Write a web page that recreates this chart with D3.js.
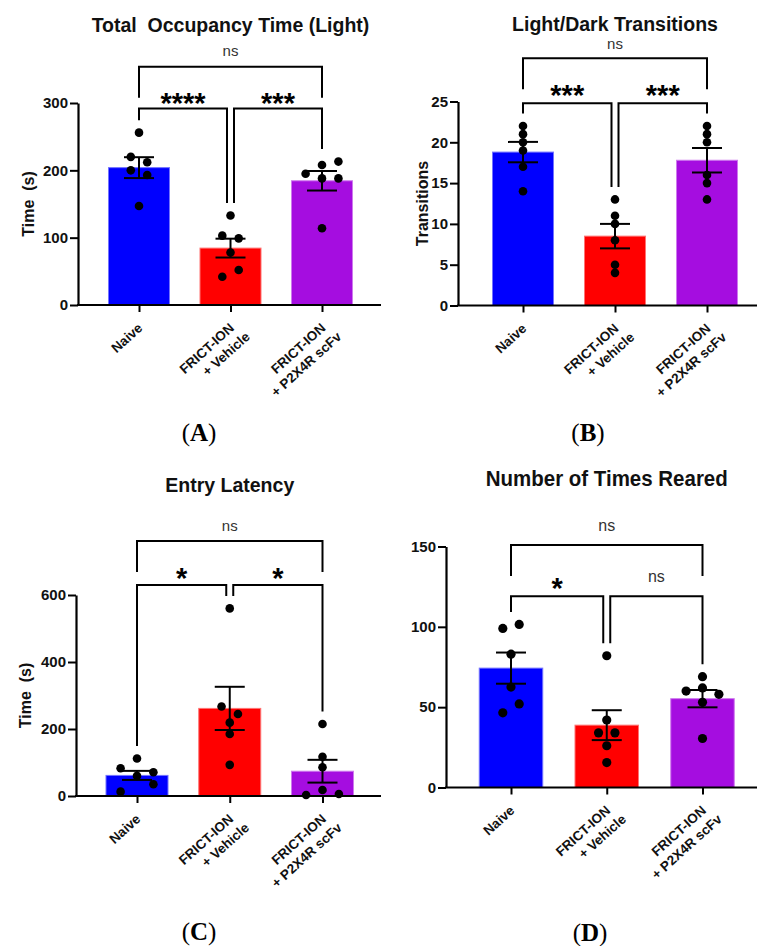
<!DOCTYPE html>
<html>
<head>
<script src="https://cdnjs.cloudflare.com/ajax/libs/d3/7.8.5/d3.min.js"></script>
<style>
  body { margin: 0; background: #fff; }
  svg { display: block; font-family: "Liberation Sans", Arial, sans-serif; }
  text { white-space: pre; }
</style>
</head>
<body>
<script>
const groups = ["Naive", "FRICT-ION + Vehicle", "FRICT-ION + P2X4R scFv"];
const groupLines = [["Naive"], ["FRICT-ION", "+ Vehicle"], ["FRICT-ION", "+ P2X4R scFv"]];
const barColors = ["#0000ff", "#ff0000", "#a50de0"];

// (A) total occupancy time in the light box, s
const occNaive = [256, 220, 212, 200, 193, 147];
const occVehicle = [133, 103, 99, 78, 52, 42];
const occScfv = [213, 208, 195, 188, 188, 114];
const occMean = [204, 84.5, 184.5];
const occSem = [15.5, 14, 14.5];
const occSlots = [[0, -1, 1, -1, 1, 0], [0, -1, 1, 0, 1, -1], [2, 0, -2, 2, 0, 0]];
const occTicks = [0, 100, 200, 300];
const occSig = ["****", "***", "ns"];
const occSigLevels = [292, 354];

// (B) light/dark transitions
const trNaive = [22, 21, 20, 19, 17, 14];
const trVehicle = [13, 11, 10, 8, 5, 4];
const trScfv = [22, 21, 20, 16, 15, 13];
const trMean = [18.8, 8.5, 17.8];
const trSem = [1.25, 1.5, 1.5];
const trSlots = [[0, 0, 0, 0, 0, 0], [0, 0, 0, 0, 0, 0], [0, 0, 0, 0, 0, 0]];
const trTicks = [0, 5, 10, 15, 20, 25];
const trSig = ["***", "***", "ns"];
const trSigLevels = [24.8, 30.3];

// (C) entry latency, s
const latNaive = [112, 83, 71, 60, 35, 13];
const latVehicle = [560, 267, 245, 219, 185, 93];
const latScfv = [215, 117, 86, 18, 6, 3];
const latMean = [61.5, 261.5, 74];
const latSem = [13.5, 64.5, 34];
const latSlots = [[0, -2, 2, 0, 2, -2], [0, -1, 1, 0, 0, 0], [0, 0, 0, 0, 2, -2]];
const latTicks = [0, 200, 400, 600];
const latSig = ["*", "*", "ns"];
const latSigLevels = [630, 761];

// (D) number of times reared
const rearNaive = [101.5, 99, 83, 62.5, 52, 46.5];
const rearVehicle = [82, 42, 34, 34, 26, 15.5];
const rearScfv = [69, 62, 60, 58, 53, 30.5];
const rearMean = [74.3, 38.8, 55.3];
const rearSem = [9.7, 9.3, 5.4];
const rearSlots = [[1, -1, 0, 0, 1, -1], [0, 0, -1, 1, 0, 0], [0, 0, -2, 2, 0, 0]];
const rearTicks = [0, 50, 100, 150];
const rearSig = ["*", "ns", "ns"];
const rearSigLevels = [119, 151];

const panels = [
  { letter: "A", title: "Total  Occupancy Time (Light)", titleY: 32, yLabel: "Time  (s)", yLabelX: 28,
    values: [occNaive, occVehicle, occScfv], mean: occMean, sem: occSem, slots: occSlots,
    ticks: occTicks, sig: occSig, levels: occSigLevels,
    axisX: 78, y0: 305, yTop: 103, c0: 139, c2: 322, barW: 61, xEnd: 381,
    starGap: 12, nsGap: 11, letterX: 199, letterY: 441 },
  { letter: "B", title: "Light/Dark Transitions", titleY: 30.5, yLabel: "Transitions", yLabelX: 422,
    values: [trNaive, trVehicle, trScfv], mean: trMean, sem: trSem, slots: trSlots,
    ticks: trTicks, sig: trSig, levels: trSigLevels,
    axisX: 458, y0: 305.5, yTop: 101.5, c0: 523, c2: 707, barW: 61, xEnd: 757,
    starGap: 15, nsGap: 9.5, letterX: 588, letterY: 441 },
  { letter: "C", title: "Entry Latency", titleY: 492, yLabel: "Time  (s)", yLabelX: 25,
    values: [latNaive, latVehicle, latScfv], mean: latMean, sem: latSem, slots: latSlots,
    ticks: latTicks, sig: latSig, levels: latSigLevels,
    axisX: 76, y0: 796, yTop: 595, c0: 137, c2: 322.5, barW: 62, xEnd: 381,
    starGap: 13.5, nsGap: 10.5, letterX: 199, letterY: 940 },
  { letter: "D", title: "Number of Times Reared", titleY: 486, titleSize: 22, titleLen: 242,
    values: [rearNaive, rearVehicle, rearScfv], mean: rearMean, sem: rearSem, slots: rearSlots,
    ticks: rearTicks, sig: rearSig, levels: rearSigLevels,
    axisX: 446, y0: 787.5, yTop: 546.5, c0: 511, c2: 702.5, barW: 63.5, xEnd: 757,
    starGap: 15, nsGap: 14, nsSize: 16, letterX: 590, letterY: 941, r: 4.6 }
];

const svg = d3.select("body").append("svg")
  .attr("width", 757)
  .attr("height", 946);

panels.forEach(drawPanel);

function drawPanel(p) {
  const g = svg.append("g").attr("class", "panel-" + p.letter);
  const y = d3.scaleLinear().domain([0, p.ticks[p.ticks.length - 1]]).range([p.y0, p.yTop]);
  const x = d3.scalePoint().domain(groups).range([p.c0, p.c2]);
  const r = p.r || 4.3;
  const slotW = 8.2;

  // bars
  g.selectAll(".bar")
    .data(p.mean)
    .join("rect")
    .attr("class", "bar")
    .attr("x", (d, i) => x(groups[i]) - p.barW / 2)
    .attr("y", d => y(d))
    .attr("width", p.barW)
    .attr("height", d => y(0) - y(d))
    .attr("fill", (d, i) => barColors[i])
    .attr("stroke", (d, i) => d3.interpolateRgb(barColors[i], "#fff")(0.45))
    .attr("stroke-width", 1);

  // individual animals
  const pts = p.values.flatMap((vals, i) => vals.map((v, j) => ({ i, v, s: p.slots[i][j] })));
  g.selectAll(".dot")
    .data(pts)
    .join("circle")
    .attr("class", "dot")
    .attr("cx", d => x(groups[d.i]) + d.s * slotW)
    .attr("cy", d => y(d.v))
    .attr("r", r)
    .attr("fill", "#000");

  // mean +/- SEM
  const eb = g.selectAll(".err")
    .data(p.mean)
    .join("g")
    .attr("class", "err")
    .attr("stroke", "#000")
    .attr("stroke-width", 2);
  const capW = 15;
  eb.append("line")
    .attr("x1", (d, i) => x(groups[i])).attr("x2", (d, i) => x(groups[i]))
    .attr("y1", (d, i) => y(d - p.sem[i])).attr("y2", (d, i) => y(d + p.sem[i]));
  eb.append("line")
    .attr("x1", (d, i) => x(groups[i]) - capW).attr("x2", (d, i) => x(groups[i]) + capW)
    .attr("y1", (d, i) => y(d + p.sem[i])).attr("y2", (d, i) => y(d + p.sem[i]));
  eb.append("line")
    .attr("x1", (d, i) => x(groups[i]) - capW).attr("x2", (d, i) => x(groups[i]) + capW)
    .attr("y1", (d, i) => y(d - p.sem[i])).attr("y2", (d, i) => y(d - p.sem[i]));

  // y axis
  const ya = g.append("g")
    .attr("transform", `translate(${p.axisX},0)`)
    .call(d3.axisLeft(y).tickValues(p.ticks).tickSize(8).tickSizeOuter(0).tickPadding(2));
  ya.select(".domain").attr("stroke-width", 2.2);
  ya.selectAll(".tick line").attr("stroke-width", 2);
  ya.selectAll(".tick text")
    .attr("font-family", "'Liberation Sans', Arial, sans-serif")
    .attr("font-size", 15)
    .attr("font-weight", "bold")
    .attr("fill", "#111");

  // x axis
  const xa = g.append("g")
    .attr("transform", `translate(0,${p.y0})`)
    .call(d3.axisBottom(x).tickSize(7).tickSizeOuter(0).tickFormat(""));
  xa.select(".domain")
    .attr("d", `M${p.axisX - 1},0H${p.xEnd}`)
    .attr("stroke-width", 2.2);
  xa.selectAll(".tick line").attr("stroke-width", 2);

  // rotated group labels
  const lab = g.selectAll(".xlab")
    .data(groupLines)
    .join("text")
    .attr("class", "xlab")
    .attr("transform", (d, i) => `translate(${x(groups[i])},${p.y0}) rotate(-42)`)
    .attr("text-anchor", "end")
    .attr("font-size", 13.5)
    .attr("font-weight", "bold")
    .attr("fill", "#111");
  lab.selectAll("tspan")
    .data(d => d)
    .join("tspan")
    .attr("x", (d, k) => k === 0 ? -13 : -7)
    .attr("y", (d, k) => 21 + k * 17)
    .text(d => d);

  // y axis title
  if (p.yLabel) {
    g.append("text")
      .attr("transform", `translate(${p.yLabelX + 6},${(p.y0 + p.yTop) / 2}) rotate(-90)`)
      .attr("text-anchor", "middle")
      .attr("font-size", 16)
      .attr("font-weight", "bold")
      .attr("fill", "#111")
      .text(p.yLabel);
  }

  // title
  const t = g.append("text")
    .attr("x", x(groups[1]))
    .attr("y", p.titleY)
    .attr("text-anchor", "middle")
    .attr("font-size", p.titleSize || 19.5)
    .attr("font-weight", "bold")
    .attr("fill", "#111")
    .text(p.title);
  if (p.titleLen) {
    t.attr("textLength", p.titleLen).attr("lengthAdjust", "spacingAndGlyphs");
  }

  // significance brackets
  const legGap = 12.5;
  const top = p.values.map(v => y(d3.max(v)) - legGap);
  const lowY = y(p.levels[0]);
  const highY = y(p.levels[1]);
  const xs = groups.map(k => x(k));
  const brackets = [
    { x1: xs[0], x2: xs[1] - 3.5, yb: lowY, l1: top[0], l2: top[1], label: p.sig[0] },
    { x1: xs[1] + 3.5, x2: xs[2], yb: lowY, l1: top[1], l2: top[2], label: p.sig[1] },
    { x1: xs[0], x2: xs[2], yb: highY, l1: highY + 31, l2: highY + 31, label: p.sig[2] }
  ];
  g.selectAll(".bracket")
    .data(brackets)
    .join("path")
    .attr("class", "bracket")
    .attr("d", d => `M${d.x1},${d.l1}V${d.yb}H${d.x2}V${d.l2}`)
    .attr("fill", "none")
    .attr("stroke", "#000")
    .attr("stroke-width", 2);

  g.selectAll(".sig")
    .data(brackets)
    .join("text")
    .attr("class", "sig")
    .attr("x", d => (d.x1 + d.x2) / 2)
    .attr("y", d => d.label === "ns" ? d.yb - p.nsGap : d.yb - p.starGap + 17)
    .attr("text-anchor", "middle")
    .attr("font-size", d => d.label === "ns" ? (p.nsSize || 15) : 29)
    .attr("font-weight", d => d.label === "ns" ? "normal" : "bold")
    .attr("fill", d => d.label === "ns" ? "#333" : "#000")
    .text(d => d.label);

  // panel letter
  const pl = g.append("text")
    .attr("x", p.letterX)
    .attr("y", p.letterY)
    .attr("text-anchor", "middle")
    .attr("font-family", "'Liberation Serif', 'Times New Roman', serif")
    .attr("font-size", 25)
    .attr("fill", "#000");
  pl.append("tspan").text("(");
  pl.append("tspan").attr("font-weight", "bold").text(p.letter);
  pl.append("tspan").text(")");
}
</script>
</body>
</html>
